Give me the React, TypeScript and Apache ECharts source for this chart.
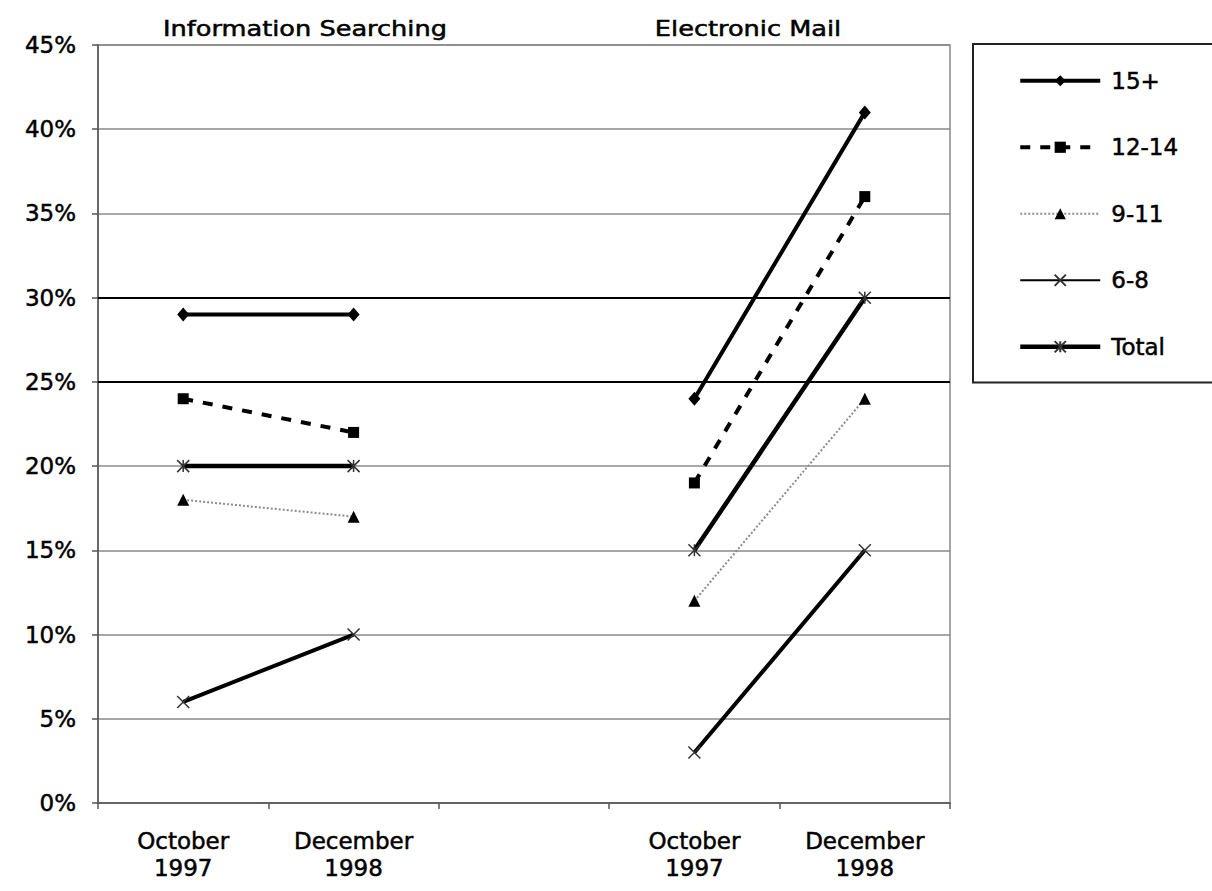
import React, { useEffect, useRef } from "react";
import * as echarts from "echarts";

// Survey periods, with an empty slot separating the two activity panels
const categories = ["October\n1997", "December\n1998", "", "October\n1997", "December\n1998"];
const panelTitles = ["Information Searching", "Electronic Mail"];

// Share of children (%) by age group
const age15plus = [29, 29, null, 24, 41];
const age12to14 = [24, 22, null, 19, 36];
const age9to11 = [18, 17, null, 12, 24];
const age6to8 = [6, 10, null, 3, 15];
const total = [20, 20, null, 15, 30];

const seriesNames = ["15+", "12-14", "9-11", "6-8", "Total"];
const yMin = 0;
const yMax = 45;
const yStep = 5;
const heavyGridValues = [25, 30];

const FONT = "DejaVu Sans";
const CROSS = "path://M0,0L10,10M10,0L0,10";
const ASTERISK = "path://M0,0L10,10M10,0L0,10M5,0L5,10";

const labelInk = {
  fontFamily: FONT,
  fontSize: 23,
  color: "#000",
  textBorderColor: "#000",
  textBorderWidth: 0.5,
};

export default function App() {
  const ref = useRef<HTMLDivElement>(null);

  useEffect(() => {
    if (!ref.current) return;
    const chart = echarts.init(ref.current, null, { renderer: "svg" });

    const crossStyle = { color: "#333", borderColor: "#333", borderWidth: 1.5 };
    const titleAt = (text: string, x: number) => ({
      type: "text",
      x,
      y: 29,
      scaleX: 1.22,
      style: {
        text,
        font: `21px "${FONT}"`,
        fill: "#000",
        stroke: "#000",
        lineWidth: 0.5,
        textAlign: "center",
        textVerticalAlign: "middle",
      },
    });

    chart.setOption({
      animation: false,
      backgroundColor: "#fff",
      textStyle: { fontFamily: FONT, color: "#000" },
      grid: {
        left: 98,
        right: 262,
        top: 45,
        bottom: 88,
        show: true,
        borderColor: "#888",
        borderWidth: 1.5,
        backgroundColor: "transparent",
      },
      graphic: [titleAt(panelTitles[0], 305), titleAt(panelTitles[1], 748)],
      legend: {
        orient: "vertical",
        left: 973,
        top: 44,
        padding: [25, 200, 24, 45],
        itemWidth: 80,
        itemHeight: 14,
        itemGap: 43,
        borderColor: "#222",
        borderWidth: 2,
        backgroundColor: "#fff",
        lineStyle: { width: "inherit" },
        textStyle: { ...labelInk, padding: [0, 0, 0, 6] },
        data: seriesNames.map((name) =>
          name === "6-8" ? { name, lineStyle: { width: 2 } } : { name }
        ),
      },
      xAxis: {
        type: "category",
        data: categories,
        boundaryGap: true,
        axisLine: { lineStyle: { color: "#555", width: 1.5 } },
        axisTick: { show: true, length: 6, lineStyle: { color: "#555", width: 1.5 } },
        axisLabel: {
          ...labelInk,
          lineHeight: 27,
          margin: 24,
          interval: 0,
        },
        splitLine: { show: false },
      },
      yAxis: {
        type: "value",
        min: yMin,
        max: yMax,
        interval: yStep,
        axisLine: { show: true, lineStyle: { color: "#555", width: 1.5 } },
        axisTick: { show: true, length: 6, lineStyle: { color: "#555", width: 1.5 } },
        axisLabel: {
          ...labelInk,
          formatter: "{value}%",
          margin: 22,
        },
        splitLine: { show: true, lineStyle: { color: "#8a8a8a", width: 1.5 } },
      },
      series: [
        {
          name: seriesNames[0],
          type: "line",
          data: age15plus,
          connectNulls: false,
          symbol: "diamond",
          symbolSize: [12, 14],
          lineStyle: { color: "#000", width: 4 },
          itemStyle: { color: "#000" },
          markLine: {
            silent: true,
            symbol: "none",
            label: { show: false },
            lineStyle: { color: "#000", width: 2, type: "solid" },
            data: heavyGridValues.map((v) => ({ yAxis: v })),
          },
          z: 5,
        },
        {
          name: seriesNames[1],
          type: "line",
          data: age12to14,
          connectNulls: false,
          symbol: "rect",
          symbolSize: 11,
          lineStyle: { color: "#000", width: 4, type: [10, 10] },
          itemStyle: { color: "#000" },
          z: 5,
        },
        {
          name: seriesNames[2],
          type: "line",
          data: age9to11,
          connectNulls: false,
          symbol: "triangle",
          symbolSize: 12,
          lineStyle: { color: "#8c8c8c", width: 2, type: [2, 2] },
          itemStyle: { color: "#000" },
          z: 5,
        },
        {
          name: seriesNames[3],
          type: "line",
          data: age6to8,
          connectNulls: false,
          symbol: CROSS,
          symbolSize: 12,
          lineStyle: { color: "#000", width: 4 },
          itemStyle: crossStyle,
          z: 5,
        },
        {
          name: seriesNames[4],
          type: "line",
          data: total,
          connectNulls: false,
          symbol: ASTERISK,
          symbolSize: 12,
          lineStyle: { color: "#000", width: 4.5 },
          itemStyle: crossStyle,
          z: 5,
        },
      ],
    });

    return () => chart.dispose();
  }, []);

  return (
    <div
      ref={ref}
      style={{ position: "fixed", left: 0, top: 0, width: 1212, height: 891, background: "#fff" }}
    />
  );
}
